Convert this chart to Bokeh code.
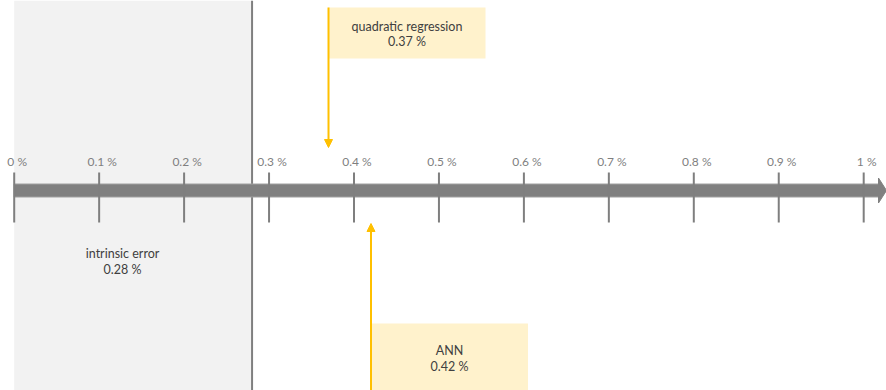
from bokeh.plotting import figure
from bokeh.models import Range1d, Arrow, NormalHead, ColumnDataSource
from bokeh.embed import file_html
from bokeh.resources import INLINE
from bokeh.core.properties import value

# --- data -------------------------------------------------------------
tick_values = [0.0, 0.1, 0.2, 0.3, 0.4, 0.5, 0.6, 0.7, 0.8, 0.9, 1.0]
tick_labels = ["0 %", "0.1 %", "0.2 %", "0.3 %", "0.4 %", "0.5 %",
               "0.6 %", "0.7 %", "0.8 %", "0.9 %", "1 %"]

intrinsic_error = 0.28
intrinsic_label = ["intrinsic error", "0.28 %"]

method_names = ["quadratic regression", "ANN"]
method_errors = [0.37, 0.42]
method_labels = ["0.37 %", "0.42 %"]

# --- layout -----------------------------------------------------------
W, H = 886, 390
PX = 849.5          # pixels per 1 % on the scale
X0 = 13.7           # pixel position of 0 %
FONT = "Lato"
GREY = "#7f7f7f"
GOLD = "#ffc000"
BOX = "#fff2cc"
TEXT = "#404040"


def px(n):
    """Horizontal pixel distance expressed in data units."""
    return n / PX


p = figure(width=W, height=H, output_backend="svg", toolbar_location=None,
           x_range=Range1d(-X0 / PX, (W - X0) / PX),
           y_range=Range1d(H, 0), min_border=0,
           background_fill_color="white", border_fill_color="white")
p.axis.visible = False
p.grid.visible = False
p.outline_line_color = None

# shaded intrinsic-error region and its boundary
p.quad(left=[0], right=[intrinsic_error], top=[0], bottom=[H],
       fill_color="#f2f2f2", line_color=None)
p.segment(x0=[intrinsic_error], x1=[intrinsic_error], y0=[0], y1=[H],
          line_color=GREY, line_width=2)
p.text(x=[intrinsic_error / 2 - px(10.6)] * 2, y=[253, 269], text=intrinsic_label,
       text_align="center", text_baseline="middle", text_color=TEXT,
       text_font=value(FONT), text_font_size="12.5px")

# the scale: thick bar with arrow head
bar_end = px(878 - X0)
tip = px(886 - X0)
p.quad(left=[0], right=[bar_end], top=[183.5], bottom=[196.5],
       fill_color="#808080", line_color="#a0a0a0", line_width=1)
p.patch(x=[bar_end, tip, bar_end], y=[177.5, 190, 202.5],
        fill_color="#808080", line_color="#808080")

# ticks and labels
p.segment(x0=tick_values, x1=tick_values, y0=[172] * len(tick_values),
          y1=[222] * len(tick_values), line_color=GREY, line_width=2)
src = ColumnDataSource(dict(x=[v + px(3) for v in tick_values],
                            y=[161] * len(tick_values), t=tick_labels))
p.text(x="x", y="y", text="t", source=src, text_align="center",
       text_baseline="middle", text_color=GREY, text_font=value(FONT),
       text_font_size="12px")

# method call-outs: one above the scale, one below
box_w = px(157)
callouts = [
    dict(top=7, bottom=58, y0=7, y1=147, ty=(26, 41)),
    dict(top=323, bottom=H, y0=H, y1=223, ty=(350, 366)),
]
for name, err, lab, c in zip(method_names, method_errors, method_labels, callouts):
    p.quad(left=[err], right=[err + box_w], top=[c["top"]], bottom=[c["bottom"]],
           fill_color=BOX, line_color=None)
    p.add_layout(Arrow(end=NormalHead(size=8, fill_color=GOLD, line_color=GOLD),
                       x_start=err, y_start=c["y0"], x_end=err, y_end=c["y1"],
                       line_color=GOLD, line_width=2))
    p.text(x=[err + box_w / 2] * 2, y=list(c["ty"]), text=[name, lab],
           text_align="center", text_baseline="middle", text_color=TEXT,
           text_font=value(FONT), text_font_size="12.5px")

open("out.html", "w").write(file_html(p, INLINE))
